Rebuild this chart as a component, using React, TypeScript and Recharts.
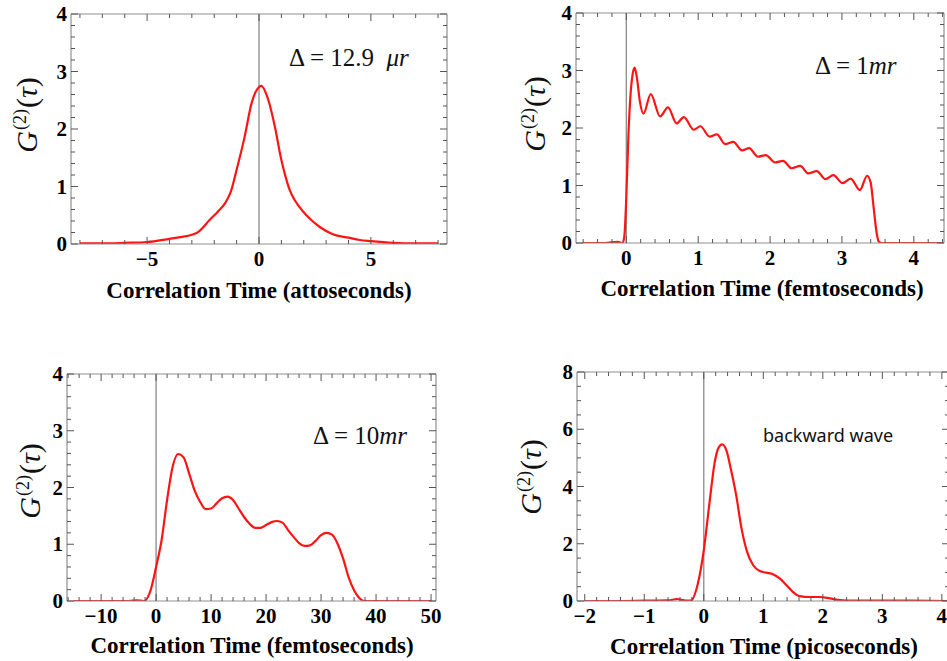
import React from "react";
import { LineChart, Line, XAxis, YAxis, ReferenceLine } from "recharts";

const SERIF = '"Liberation Serif", "DejaVu Serif", serif';
const SANS = '"Noto Sans", "Open Sans", sans-serif';
const RED = "#ff1414";
const FRAME = "#8f8f8f";
const TICK = "#555";

// Panel 1: Δ = 12.9 μr, attoseconds
const t1 = [-8, -7, -6, -5, -4, -3.5, -3, -2.75, -2.2, -1.8, -1.5, -1.25, -1, -0.65, -0.33, 0, 0.1, 0.42, 0.71, 1.0, 1.18, 1.37, 1.6, 1.96, 2.3, 2.7, 3.3, 4, 4.5, 5, 6, 7, 8];
const g1 = [0.01, 0.01, 0.02, 0.035, 0.09, 0.12, 0.16, 0.2, 0.42, 0.58, 0.72, 0.92, 1.29, 1.85, 2.45, 2.73, 2.75, 2.5, 2.04, 1.46, 1.18, 0.94, 0.76, 0.57, 0.43, 0.3, 0.17, 0.11, 0.07, 0.05, 0.02, 0.01, 0.01];

// Panel 2: Δ = 1 mr, femtoseconds
const t2 = [-0.6, -0.3, -0.12, -0.05, -0.025, 0, 0.03, 0.06, 0.09, 0.116, 0.15, 0.19, 0.24, 0.34, 0.47, 0.58, 0.7, 0.8, 0.94, 1.03, 1.16, 1.26, 1.375, 1.49, 1.61, 1.71, 1.83, 1.94, 2.07, 2.18, 2.3, 2.42, 2.53, 2.65, 2.77, 2.88, 3.01, 3.12, 3.25, 3.35, 3.4, 3.44, 3.48, 3.51, 3.55, 4.0, 4.4];
const g2 = [0, 0, 0.02, 0, 0.15, 0.8, 1.9, 2.6, 2.95, 3.05, 2.85, 2.45, 2.25, 2.59, 2.2, 2.36, 2.08, 2.19, 1.97, 2.03, 1.85, 1.89, 1.72, 1.76, 1.61, 1.65, 1.5, 1.53, 1.4, 1.43, 1.3, 1.34, 1.21, 1.25, 1.11, 1.18, 1.04, 1.12, 0.92, 1.17, 1.05, 0.63, 0.2, 0.03, 0, 0, 0];

// Panel 3: Δ = 10 mr, femtoseconds
const t3 = [-15, -10, -5, -3.5, -2.2, -1, 0, 1, 2, 3, 4, 5, 6, 7, 8, 9, 10, 11, 12, 13, 14, 15, 16, 17, 18, 19, 20, 21, 22, 23, 24, 25, 26, 27, 28, 29, 30, 31, 32, 33, 34, 35, 36, 37, 38, 40, 45, 50];
const g3 = [0, 0, 0, 0.01, 0, 0.19, 0.6, 1.07, 1.78, 2.36, 2.59, 2.53, 2.25, 1.95, 1.75, 1.62, 1.63, 1.72, 1.81, 1.84, 1.78, 1.63, 1.48, 1.36, 1.29, 1.29, 1.34, 1.39, 1.41, 1.38, 1.25, 1.13, 1.02, 0.97, 0.98, 1.06, 1.16, 1.2, 1.17, 1.01, 0.75, 0.42, 0.19, 0.05, 0, 0, 0, 0];

// Panel 4: backward wave, picoseconds
const t4 = [-2, -1.5, -1, -0.6, -0.45, -0.3, -0.22, -0.1, 0, 0.1, 0.18, 0.24, 0.31, 0.38, 0.46, 0.55, 0.63, 0.72, 0.83, 0.94, 1.05, 1.17, 1.28, 1.39, 1.5, 1.61, 1.78, 1.95, 2.12, 2.29, 2.5, 3, 3.5, 4.1];
const g4 = [0, 0, 0.01, 0.02, 0.07, 0.01, 0.01, 0.6, 1.77, 3.5, 4.8, 5.32, 5.47, 5.26, 4.56, 3.63, 2.58, 1.77, 1.25, 1.05, 0.99, 0.93, 0.78, 0.55, 0.31, 0.17, 0.14, 0.14, 0.09, 0.03, 0.01, 0.01, 0.01, 0];

const xMajor1 = [-5, 0, 5];
const xMajor2 = [0, 1, 2, 3, 4];
const xMajor3 = [-10, 0, 10, 20, 30, 40, 50];
const xMajor4 = [-2, -1, 0, 1, 2, 3, 4];
const yMajor4 = [0, 1, 2, 3, 4];
const yMajor8 = [0, 2, 4, 6, 8];

function stepTicks(domain: [number, number], step: number) {
  const out: number[] = [];
  const start = Math.ceil(domain[0] / step - 1e-9);
  for (let k = start; k * step <= domain[1] + 1e-9; k++) out.push(+(k * step).toFixed(6));
  return out;
}

function fmt(v: number) {
  return v < 0 ? "\u2212" + Math.abs(v) : String(v);
}

type Side = "bottom" | "top" | "left" | "right";

function makeTick(side: Side, majors: number[]) {
  return (props: any) => {
    const { x, y, payload } = props;
    const v = payload.value;
    const major = majors.some((m) => Math.abs(m - v) < 1e-6);
    const len = major ? 7 : 4;
    let line;
    if (side === "bottom") line = <line x1={x} y1={y} x2={x} y2={y - len} />;
    else if (side === "top") line = <line x1={x} y1={y} x2={x} y2={y + len} />;
    else if (side === "left") line = <line x1={x} y1={y} x2={x + len} y2={y} />;
    else line = <line x1={x} y1={y} x2={x - len} y2={y} />;
    let label = null;
    if (major && side === "bottom")
      label = <text x={x} y={y + 22} textAnchor="middle" fontFamily={SERIF} fontWeight="bold" fontSize={21} fill="#000" stroke="none">{fmt(v)}</text>;
    if (major && side === "left")
      label = <text x={x - 4} y={y + 7} textAnchor="end" fontFamily={SERIF} fontWeight="bold" fontSize={21} fill="#000" stroke="none">{fmt(v)}</text>;
    return (
      <g stroke={TICK} strokeWidth={1}>
        {line}
        {label}
      </g>
    );
  };
}

type PanelProps = {
  t: number[];
  g: number[];
  x0: number;
  x1: number;
  y0: number;
  y1: number;
  xDomain: [number, number];
  yMax: number;
  xMajor: number[];
  xStep: number;
  yMajor: number[];
  yStep: number;
};

function Panel({ t, g, x0, x1, y0, y1, xDomain, yMax, xMajor, xStep, yMajor, yStep }: PanelProps) {
  const data = t.map((v, i) => ({ t: v, g: g[i] }));
  const L = 70, R = 20, T = 14, B = 80;
  const xTicks = stepTicks(xDomain, xStep);
  const yTicks = stepTicks([0, yMax], yStep);
  return (
    <div style={{ position: "absolute", left: x0 - L, top: y0 - T }}>
      <LineChart
        width={x1 - x0 + L + R}
        height={y1 - y0 + T + B}
        data={data}
        margin={{ left: L - 50, right: R - 10, top: T - 4, bottom: B - 40 }}
      >
        <XAxis xAxisId="b" dataKey="t" type="number" domain={xDomain} allowDataOverflow ticks={xTicks} interval={0}
          orientation="bottom" height={40} tickSize={0} tickMargin={0} tickLine={false}
          axisLine={{ stroke: FRAME, strokeWidth: 1.2 }} tick={makeTick("bottom", xMajor)} />
        <XAxis xAxisId="t" dataKey="t" type="number" domain={xDomain} allowDataOverflow ticks={xTicks} interval={0}
          orientation="top" height={4} tickSize={0} tickMargin={0} tickLine={false}
          axisLine={{ stroke: FRAME, strokeWidth: 1.2 }} tick={makeTick("top", xMajor)} />
        <YAxis yAxisId="l" type="number" domain={[0, yMax]} allowDataOverflow ticks={yTicks} interval={0}
          orientation="left" width={50} tickSize={0} tickMargin={0} tickLine={false}
          axisLine={{ stroke: FRAME, strokeWidth: 1.2 }} tick={makeTick("left", yMajor)} />
        <YAxis yAxisId="r" type="number" domain={[0, yMax]} allowDataOverflow ticks={yTicks} interval={0}
          orientation="right" width={10} tickSize={0} tickMargin={0} tickLine={false}
          axisLine={{ stroke: FRAME, strokeWidth: 1.2 }} tick={makeTick("right", yMajor)} />
        <ReferenceLine xAxisId="b" yAxisId="l" x={0} stroke="#8a8a8a" strokeWidth={1.3} />
        <Line xAxisId="b" yAxisId="l" type="monotone" dataKey="g" stroke={RED} strokeWidth={2.2}
          dot={false} activeDot={false} isAnimationActive={false} />
      </LineChart>
    </div>
  );
}

function YLabel({ cx, cy }: { cx: number; cy: number }) {
  return (
    <div style={{ position: "absolute", left: cx, top: cy, transform: "translate(-50%, -50%) rotate(-90deg)",
      fontFamily: SERIF, fontSize: 30, whiteSpace: "nowrap", lineHeight: 1, color: "#111" }}>
      <i>G</i><span style={{ fontSize: 18, position: "relative", top: -11, marginLeft: 1, marginRight: 1 }}>(2)</span>(<i>τ</i>)
    </div>
  );
}

function XLabel({ cx, cy, text }: { cx: number; cy: number; text: string }) {
  return (
    <div style={{ position: "absolute", left: cx, top: cy, transform: "translate(-50%, -50%)",
      fontFamily: SERIF, fontWeight: "bold", fontSize: 23, whiteSpace: "nowrap", lineHeight: 1, color: "#000" }}>
      {text}
    </div>
  );
}

function Note({ left, cy, children, font = SERIF, size = 25 }: { left: number; cy: number; children: React.ReactNode; font?: string; size?: number }) {
  return (
    <div style={{ position: "absolute", left, top: cy, transform: "translateY(-50%)",
      fontFamily: font, fontSize: size, whiteSpace: "nowrap", lineHeight: 1, color: "#111" }}>
      {children}
    </div>
  );
}

export default function App() {
  return (
    <div style={{ position: "absolute", left: 0, top: 0, width: 947, height: 661, overflow: "hidden", background: "#fff" }}>
      <Panel t={t1} g={g1} x0={71} x1={447} y0={14} y1={244} xDomain={[-8.4, 8.4]} yMax={4}
        xMajor={xMajor1} xStep={1} yMajor={yMajor4} yStep={0.2} />
      <Panel t={t2} g={g2} x0={576} x1={944} y0={13} y1={243} xDomain={[-0.7, 4.42]} yMax={4}
        xMajor={xMajor2} xStep={0.2} yMajor={yMajor4} yStep={0.2} />
      <Panel t={t3} g={g3} x0={67} x1={436} y0={374} y1={601} xDomain={[-16.2, 50.9]} yMax={4}
        xMajor={xMajor3} xStep={2} yMajor={yMajor4} yStep={0.2} />
      <Panel t={t4} g={g4} x0={577} x1={949} y0={372} y1={601} xDomain={[-2.13, 4.12]} yMax={8}
        xMajor={xMajor4} xStep={0.2} yMajor={yMajor8} yStep={0.5} />

      <YLabel cx={27} cy={115} />
      <YLabel cx={535} cy={114} />
      <YLabel cx={30} cy={481} />
      <YLabel cx={531} cy={477} />

      <XLabel cx={259} cy={290} text="Correlation Time (attoseconds)" />
      <XLabel cx={762} cy={288} text="Correlation Time (femtoseconds)" />
      <XLabel cx={252} cy={645} text="Correlation Time (femtoseconds)" />
      <XLabel cx={764} cy={646} text="Correlation Time (picoseconds)" />

      <Note left={289} cy={57}>Δ = 12.9&nbsp; <i>μr</i></Note>
      <Note left={815} cy={65}>Δ = 1<i>mr</i></Note>
      <Note left={313} cy={435}>Δ = 10<i>mr</i></Note>
      <Note left={763} cy={435} font={SANS} size={18}>backward wave</Note>
    </div>
  );
}
